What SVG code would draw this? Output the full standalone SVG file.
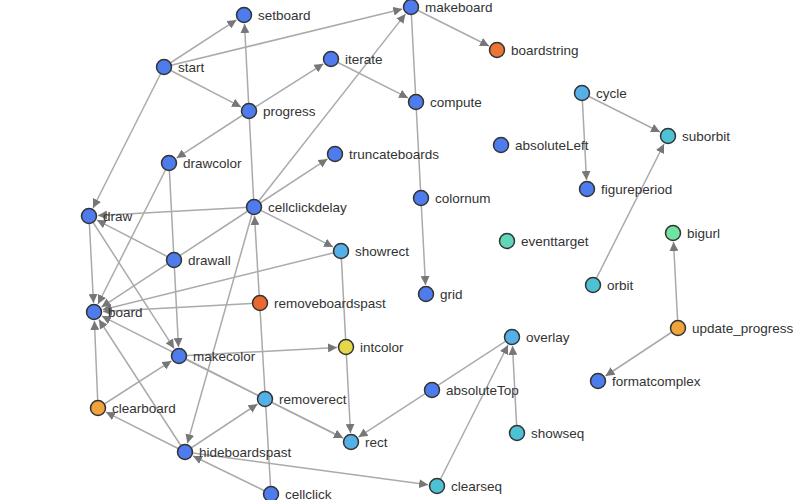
<svg xmlns="http://www.w3.org/2000/svg" width="800" height="500" viewBox="0 0 800 500">
<defs>
<marker id="arr" viewBox="0 0 10 10" refX="10" refY="5" markerWidth="9" markerHeight="9" markerUnits="userSpaceOnUse" orient="auto">
<path d="M0,0 L10,5 L0,10 z" fill="#777"/>
</marker>
</defs>
<style>
.e{stroke:#aaa;stroke-width:1.5;fill:none;marker-end:url(#arr)}
circle{stroke:#333;stroke-width:1.5}
text{font-family:"Liberation Sans",Arial,sans-serif;font-size:13.5px;fill:#333}
.blue{fill:#4f7cec}
.lblue{fill:#55b0e8}
.teal{fill:#4fc1d4}
.orange{fill:#ea7534}
.red{fill:#e8692f}
.amber{fill:#f0a23c}
.yellow{fill:#e6d64a}
.mint{fill:#5fd7b8}
.green{fill:#6fe3a1}
</style>
<rect width="800" height="500" fill="#fff"/>
<g id="edges">
<path class="e" d="M164,67L236.4,19.9"/>
<path class="e" d="M164,67L402.3,9.1"/>
<path class="e" d="M164,67L241,106.9"/>
<path class="e" d="M164,67L93,208"/>
<path class="e" d="M254,207L244.5,24"/>
<path class="e" d="M271,494L254.5,216"/>
<path class="e" d="M249,111L323.4,63.8"/>
<path class="e" d="M249,111L176.6,158.1"/>
<path class="e" d="M331,59L408,97.9"/>
<path class="e" d="M411,7L489,46"/>
<path class="e" d="M411,7L425.5,285"/>
<path class="e" d="M254,207L405.4,14.1"/>
<path class="e" d="M254,207L327.5,158.9"/>
<path class="e" d="M254,207L333,246.9"/>
<path class="e" d="M254,207L98,215.5"/>
<path class="e" d="M254,207L101.5,307.1"/>
<path class="e" d="M254,207L187.4,443.3"/>
<path class="e" d="M169,163L178.5,347"/>
<path class="e" d="M169,163L98,304"/>
<path class="e" d="M174,260L97,220.1"/>
<path class="e" d="M89,216L93.5,303"/>
<path class="e" d="M89,216L174.1,348.4"/>
<path class="e" d="M341,251L102.7,309.8"/>
<path class="e" d="M260,303L103,311.5"/>
<path class="e" d="M265,399L102,316.1"/>
<path class="e" d="M185,452L98.9,319.5"/>
<path class="e" d="M98,408L94.4,321"/>
<path class="e" d="M98,408L171.4,360.9"/>
<path class="e" d="M185,452L106,412.1"/>
<path class="e" d="M185,452L257.5,404"/>
<path class="e" d="M271,494L193.1,456"/>
<path class="e" d="M185,452L428.1,484.8"/>
<path class="e" d="M179,356L337,347.5"/>
<path class="e" d="M179,356L343,438"/>
<path class="e" d="M265,399L343,438"/>
<path class="e" d="M341,251L350.5,433"/>
<path class="e" d="M512,337L358.5,437.1"/>
<path class="e" d="M437,486L508,345"/>
<path class="e" d="M517,433L512.5,346"/>
<path class="e" d="M582,93L660,132"/>
<path class="e" d="M582,93L586.5,180"/>
<path class="e" d="M593,285L664,144"/>
<path class="e" d="M678,328L673.5,242"/>
<path class="e" d="M678,328L605.5,376"/>
</g>
<g id="n-setboard"><circle class="blue" cx="244" cy="15" r="7.5"/><text x="258" y="19.5">setboard</text></g>
<g id="n-makeboard"><circle class="blue" cx="411" cy="7" r="7.5"/><text x="425" y="11.5">makeboard</text></g>
<g id="n-boardstring"><circle class="orange" cx="497" cy="50" r="7.5"/><text x="511" y="54.5">boardstring</text></g>
<g id="n-start"><circle class="blue" cx="164" cy="67" r="7.5"/><text x="178" y="71.5">start</text></g>
<g id="n-iterate"><circle class="blue" cx="331" cy="59" r="7.5"/><text x="345" y="63.5">iterate</text></g>
<g id="n-progress"><circle class="blue" cx="249" cy="111" r="7.5"/><text x="263" y="115.5">progress</text></g>
<g id="n-compute"><circle class="blue" cx="416" cy="102" r="7.5"/><text x="430" y="106.5">compute</text></g>
<g id="n-cycle"><circle class="lblue" cx="582" cy="93" r="7.5"/><text x="596" y="97.5">cycle</text></g>
<g id="n-suborbit"><circle class="teal" cx="668" cy="136" r="7.5"/><text x="682" y="140.5">suborbit</text></g>
<g id="n-absoluteLeft"><circle class="blue" cx="501" cy="145" r="7.5"/><text x="515" y="149.5">absoluteLeft</text></g>
<g id="n-drawcolor"><circle class="blue" cx="169" cy="163" r="7.5"/><text x="183" y="167.5">drawcolor</text></g>
<g id="n-truncateboards"><circle class="blue" cx="335" cy="154" r="7.5"/><text x="349" y="158.5">truncateboards</text></g>
<g id="n-figureperiod"><circle class="blue" cx="587" cy="189" r="7.5"/><text x="601" y="193.5">figureperiod</text></g>
<g id="n-colornum"><circle class="blue" cx="421" cy="198" r="7.5"/><text x="435" y="202.5">colornum</text></g>
<g id="n-draw"><circle class="blue" cx="89" cy="216" r="7.5"/><text x="103" y="220.5">draw</text></g>
<g id="n-cellclickdelay"><circle class="blue" cx="254" cy="207" r="7.5"/><text x="268" y="211.5">cellclickdelay</text></g>
<g id="n-showrect"><circle class="lblue" cx="341" cy="251" r="7.5"/><text x="355" y="255.5">showrect</text></g>
<g id="n-eventtarget"><circle class="mint" cx="507" cy="241" r="7.5"/><text x="521" y="245.5">eventtarget</text></g>
<g id="n-bigurl"><circle class="green" cx="673" cy="233" r="7.5"/><text x="687" y="237.5">bigurl</text></g>
<g id="n-drawall"><circle class="blue" cx="174" cy="260" r="7.5"/><text x="188" y="264.5">drawall</text></g>
<g id="n-removeboardspast"><circle class="red" cx="260" cy="303" r="7.5"/><text x="274" y="307.5">removeboardspast</text></g>
<g id="n-grid"><circle class="blue" cx="426" cy="294" r="7.5"/><text x="440" y="298.5">grid</text></g>
<g id="n-orbit"><circle class="teal" cx="593" cy="285" r="7.5"/><text x="607" y="289.5">orbit</text></g>
<g id="n-board"><circle class="blue" cx="94" cy="312" r="7.5"/><text x="108" y="316.5">board</text></g>
<g id="n-makecolor"><circle class="blue" cx="179" cy="356" r="7.5"/><text x="193" y="360.5">makecolor</text></g>
<g id="n-intcolor"><circle class="yellow" cx="346" cy="347" r="7.5"/><text x="360" y="351.5">intcolor</text></g>
<g id="n-overlay"><circle class="lblue" cx="512" cy="337" r="7.5"/><text x="526" y="341.5">overlay</text></g>
<g id="n-update_progress"><circle class="amber" cx="678" cy="328" r="7.5"/><text x="692" y="332.5">update_progress</text></g>
<g id="n-clearboard"><circle class="amber" cx="98" cy="408" r="7.5"/><text x="112" y="412.5">clearboard</text></g>
<g id="n-absoluteTop"><circle class="blue" cx="432" cy="390" r="7.5"/><text x="446" y="394.5">absoluteTop</text></g>
<g id="n-formatcomplex"><circle class="blue" cx="598" cy="381" r="7.5"/><text x="612" y="385.5">formatcomplex</text></g>
<g id="n-removerect"><circle class="lblue" cx="265" cy="399" r="7.5"/><text x="279" y="403.5">removerect</text></g>
<g id="n-rect"><circle class="lblue" cx="351" cy="442" r="7.5"/><text x="365" y="446.5">rect</text></g>
<g id="n-showseq"><circle class="teal" cx="517" cy="433" r="7.5"/><text x="531" y="437.5">showseq</text></g>
<g id="n-hideboardspast"><circle class="blue" cx="185" cy="452" r="7.5"/><text x="199" y="456.5">hideboardspast</text></g>
<g id="n-cellclick"><circle class="blue" cx="271" cy="494" r="7.5"/><text x="285" y="498.5">cellclick</text></g>
<g id="n-clearseq"><circle class="teal" cx="437" cy="486" r="7.5"/><text x="451" y="490.5">clearseq</text></g>
</svg>
